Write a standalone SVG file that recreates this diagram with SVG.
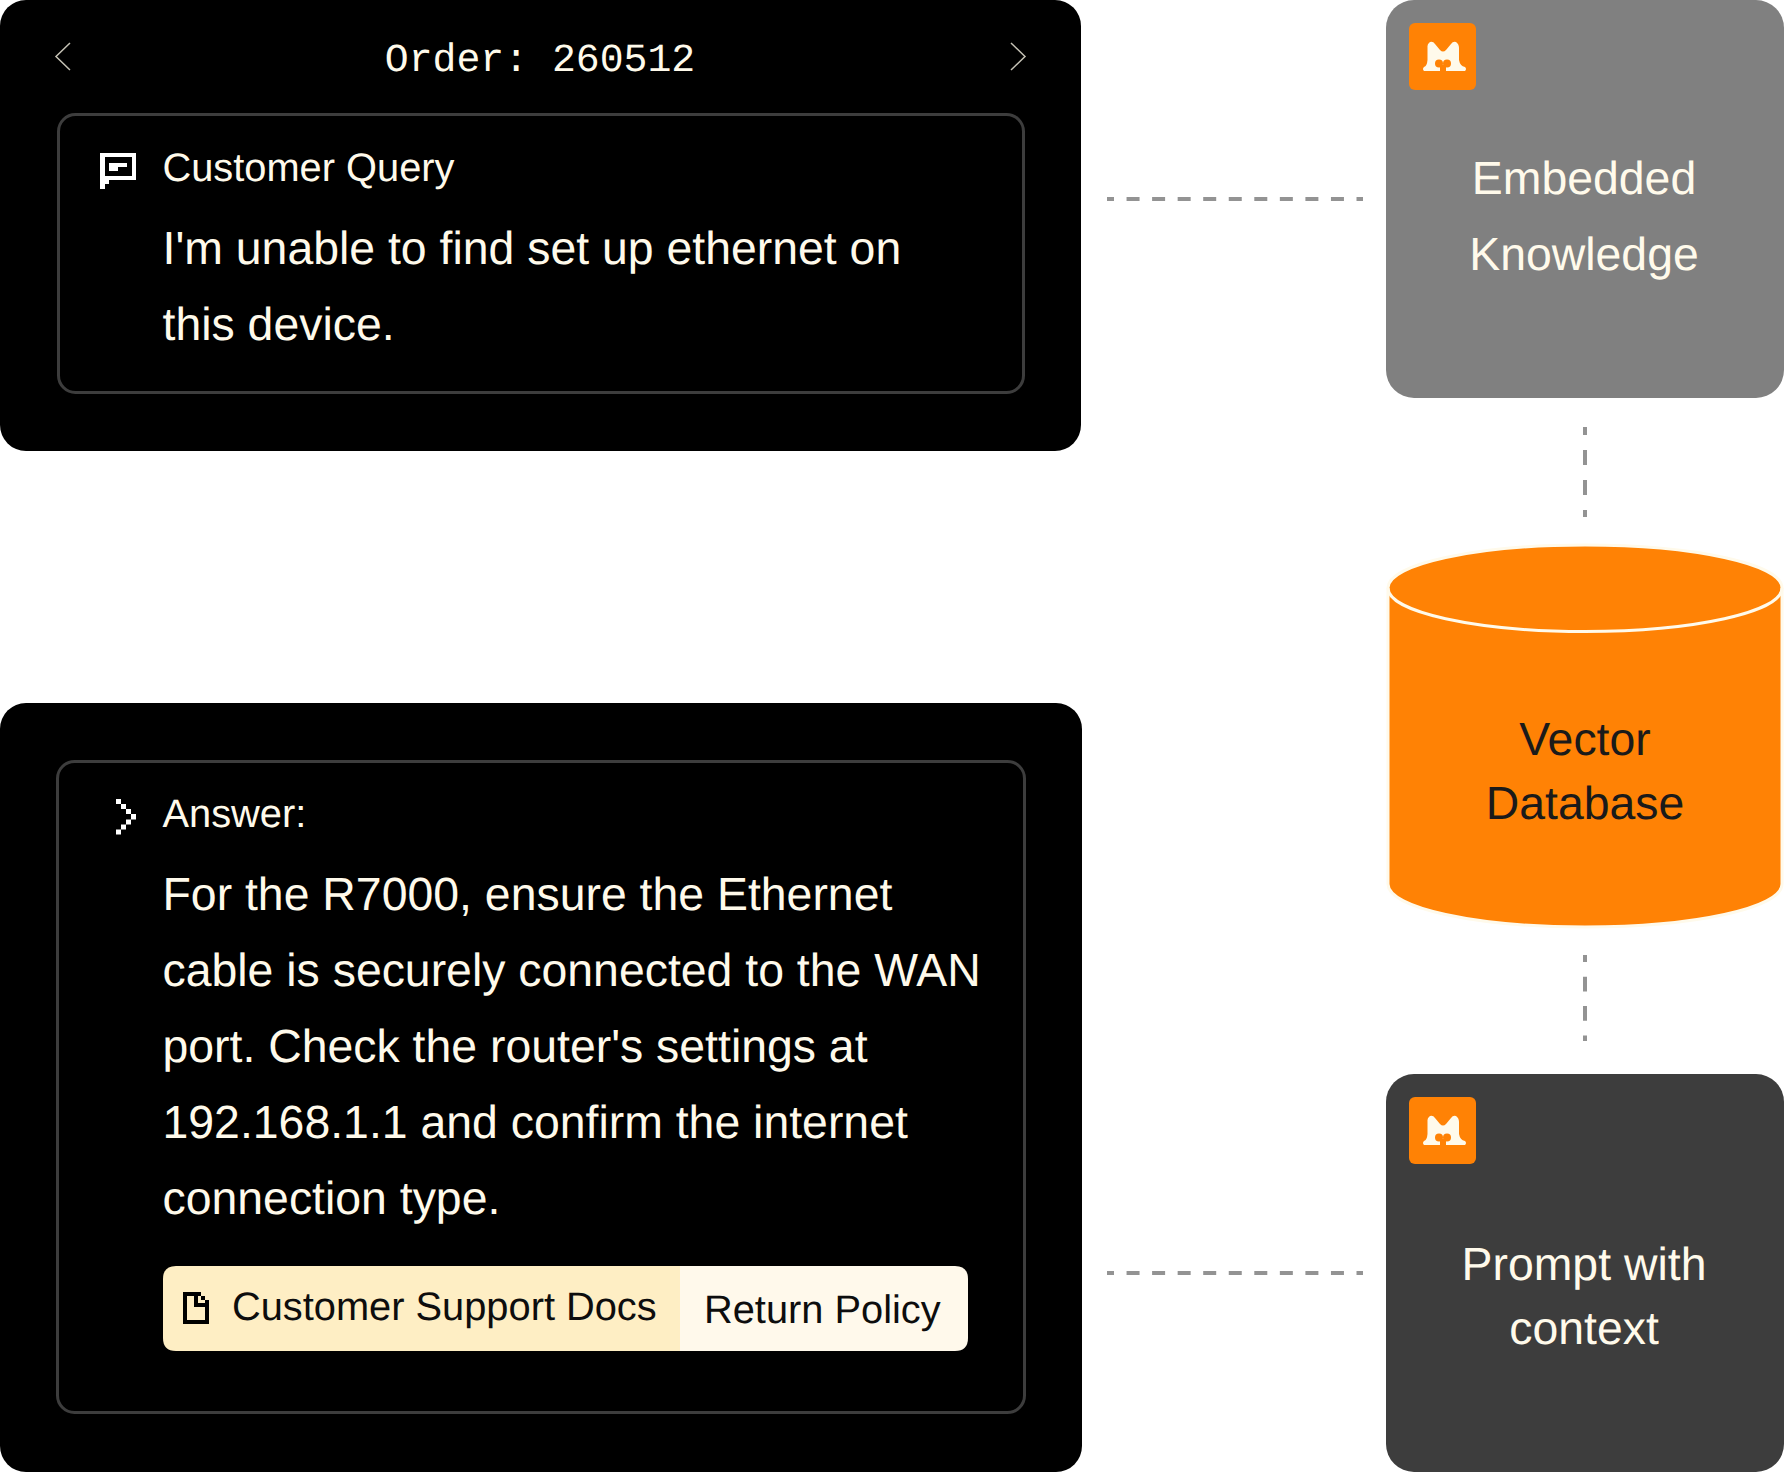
<svg xmlns="http://www.w3.org/2000/svg" width="1784" height="1472" viewBox="0 0 1784 1472">
<style>
text{text-rendering:geometricPrecision}
.sans{font-family:"Liberation Sans",Arial,sans-serif}
.body{font-size:46.400px;fill:#fffaeb}
.head{font-size:39.800px;fill:#fffaeb}
.tag{font-size:39.800px;fill:#0d0d0d}
.mid{text-anchor:middle}
.panel{fill:#000}
.frame{fill:none;stroke:#3d3d3d;stroke-width:3}
.link{fill:none;stroke:#939393;stroke-width:4}
.px{fill:#fff;fill-rule:evenodd}
</style>
<defs>
<g id="logo">
<rect width="67" height="67" rx="6" fill="#ff8205"/>
<path d="M21 19Q24 18 26 21L31 27Q34 30 37 27L42 21Q44 18 47 19Q50 21 50 25V37Q51 43 56 44Q58 46 56 48H15Q13 46 15 44Q18 43 18.500 37V25Q18 21 21 19Z" fill="#fffaeb"/>
<circle cx="30" cy="40.500" r="4" fill="#ff8205"/>
<circle cx="38" cy="40.500" r="4" fill="#ff8205"/>
<rect x="31" y="42" width="6" height="7" fill="#ff8205"/>
</g>
</defs>
<g id="query-panel">
<rect class="panel" x="0" y="0" width="1081" height="451" rx="26"/>
<rect class="frame" x="58.500" y="114.500" width="965" height="278" rx="17"/>
<path d="M70 43L56 56.500L70 70M1011 43L1025 56.500L1011 70" fill="none" stroke="#c4c1b4" stroke-width="1.500"/>
<text x="540" y="71" class="mid" font-family="'Liberation Mono',monospace" font-size="39.800" fill="#fffaeb">Order: 260512</text>
<path class="px" d="M100 153H136V180H109V184H105V189H100ZM105 157V176H109V180H109V176H132V157ZM109 163H127V167H118V171H109Z"/>
<text x="162.500" y="181" class="sans head">Customer Query</text>
<text x="162.500" y="264" class="sans body">I'm unable to find set up ethernet on</text>
<text x="162.500" y="340" class="sans body">this device.</text>
</g>
<g id="answer-panel">
<rect class="panel" x="0" y="703" width="1082" height="769" rx="26"/>
<rect class="frame" x="57.500" y="761.500" width="967" height="651" rx="17"/>
<path class="px" d="M116 799h5v5h-5zM121 804h5v5h-5zM126 809h5v5h-5zM131 814h5v5.500h-5zM126 819.500h5v5h-5zM121 824.500h5v5h-5zM116 829.500h5v5h-5z"/>
<text x="162.500" y="827" class="sans head">Answer:</text>
<text x="162.500" y="910" class="sans body">For the R7000, ensure the Ethernet</text>
<text x="162.500" y="986" class="sans body">cable is securely connected to the WAN</text>
<text x="162.500" y="1062" class="sans body">port. Check the router's settings at</text>
<text x="162.500" y="1138" class="sans body">192.168.1.1 and confirm the internet</text>
<text x="162.500" y="1214" class="sans body">connection type.</text>
<path d="M680 1266H176Q163 1266 163 1279V1338Q163 1351 176 1351H680Z" fill="#feeec4"/>
<path d="M680 1266H955Q968 1266 968 1279V1338Q968 1351 955 1351H680Z" fill="#fff9eb"/>
<path fill="#000" fill-rule="evenodd" d="M183 1292H201V1296H205V1300H209V1324H183ZM187 1296V1320H205V1307H194V1296ZM198 1296V1303H205V1300H201V1296Z"/>
<text x="232" y="1320" class="sans tag">Customer Support Docs</text>
<text x="704" y="1322.500" class="sans tag">Return Policy</text>
</g>
<g id="connectors">
<path class="link" stroke-dasharray="13 12.550" stroke-dashoffset="6" d="M1107 199H1363"/>
<path class="link" stroke-dasharray="13 12.550" stroke-dashoffset="6" d="M1107 1273H1363"/>
<path class="link" stroke-dasharray="15 15" stroke-dashoffset="7" d="M1585 427V517"/>
<path class="link" stroke-dasharray="14.700 14.700" stroke-dashoffset="7.700" d="M1585 955V1041"/>
</g>
<g id="embedded-knowledge">
<rect x="1386" y="0" width="398" height="398" rx="28" fill="#808080"/>
<use href="#logo" x="1409" y="23"/>
<text x="1584" y="194" class="sans body mid">Embedded</text>
<text x="1584" y="270" class="sans body mid">Knowledge</text>
</g>
<g id="vector-database">
<path d="M1388 588C1388 564 1476 545 1585 545C1694 545 1782 564 1782 588V884C1782 908 1694 927 1585 927C1476 927 1388 908 1388 884Z" fill="#ff8205" stroke="#fffaeb" stroke-width="3"/>
<path d="M1388 588C1388 612 1476 631.500 1585 631.500C1694 631.500 1782 612 1782 588" fill="none" stroke="#fffaeb" stroke-width="3"/>
<text x="1585" y="754.500" class="sans mid" font-size="46.400" fill="#1a1a1a">Vector</text>
<text x="1585" y="818.500" class="sans mid" font-size="46.400" fill="#1a1a1a">Database</text>
</g>
<g id="prompt-context">
<rect x="1386" y="1074" width="398" height="398" rx="28" fill="#3d3d3d"/>
<use href="#logo" x="1409" y="1097"/>
<text x="1584" y="1280" class="sans body mid">Prompt with</text>
<text x="1584" y="1344" class="sans body mid">context</text>
</g>
</svg>
